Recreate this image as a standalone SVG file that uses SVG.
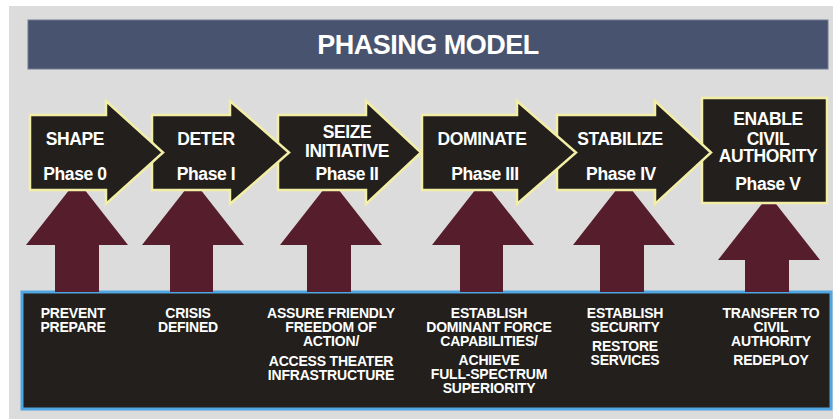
<svg xmlns="http://www.w3.org/2000/svg" width="833" height="419" viewBox="0 0 833 419">
<style>
.bg{fill:#dcdcdc}
.title{fill:#48536f;stroke:#707a94;stroke-width:1}
.tt{font-family:"Liberation Sans",Arial,sans-serif;font-weight:bold;font-size:27px;fill:#ffffff;text-anchor:middle;letter-spacing:-0.5px}
.chev{fill:#231f1c;stroke:#f2eea6;stroke-width:2.5;stroke-linejoin:miter}
.up{fill:#561e2c}
.ph{font-family:"Liberation Sans",Arial,sans-serif;font-weight:bold;font-size:17.5px;fill:#ffffff;text-anchor:middle;letter-spacing:-0.4px}
.panel{fill:#221f1c;stroke:#4fa6e0;stroke-width:3}
.bt{font-family:"Liberation Sans",Arial,sans-serif;font-weight:bold;font-size:14px;fill:#ffffff;text-anchor:middle;letter-spacing:-0.2px}
</style>
<rect class="bg" x="9" y="6" width="824" height="413"/>
<g id="title">
<rect class="title" x="28" y="20" width="800" height="49"/>
<text class="tt" x="428" y="54">PHASING MODEL</text>
</g>
<g id="panel">
<rect class="panel" x="22" y="292" width="809" height="117"/>
</g>
<g id="connectors">
<path class="up" d="M77,180 L128,245 L99,245 L99,292 L55,292 L55,245 L26,245 Z"/>
<path class="up" d="M193,180 L244,245 L213,245 L213,292 L170,292 L170,245 L142,245 Z"/>
<path class="up" d="M331,180 L382,245 L351,245 L351,292 L307,292 L307,245 L280,245 Z"/>
<path class="up" d="M483,180 L534,245 L503,245 L503,292 L460,292 L460,245 L432,245 Z"/>
<path class="up" d="M624,180 L675,245 L644,245 L644,292 L600,292 L600,245 L573,245 Z"/>
<path class="up" d="M769,195 L820,260 L789,260 L789,292 L745,292 L745,260 L718,260 Z"/>
</g>
<g id="phase5">
<rect class="chev" x="702" y="98" width="125" height="105"/>
<text class="ph" x="768" y="125">ENABLE</text>
<text class="ph" x="768" y="145">CIVIL</text>
<text class="ph" x="768" y="162">AUTHORITY</text>
<text class="ph" x="768" y="190">Phase V</text>
</g>
<g id="phase4">
<path class="chev" d="M557,115 H655 V101 L711,152.5 L655,204 V190 H557 Z"/>
<text class="ph" x="620" y="145">STABILIZE</text>
<text class="ph" x="621" y="180">Phase IV</text>
</g>
<g id="phase3">
<path class="chev" d="M422,115 H517 V101 L576,152.5 L517,204 V190 H422 Z"/>
<text class="ph" x="482" y="145">DOMINATE</text>
<text class="ph" x="485" y="180">Phase III</text>
</g>
<g id="phase2">
<path class="chev" d="M278,115 H366 V101 L421,152.5 L366,204 V190 H278 Z"/>
<text class="ph" x="347" y="138">SEIZE</text>
<text class="ph" x="347" y="157">INITIATIVE</text>
<text class="ph" x="347" y="180">Phase II</text>
</g>
<g id="phase1">
<path class="chev" d="M152,115 H230 V101 L289,152.5 L230,204 V190 H152 Z"/>
<text class="ph" x="206" y="145">DETER</text>
<text class="ph" x="206" y="180">Phase I</text>
</g>
<g id="phase0">
<path class="chev" d="M30,115 H106 V101 L163,152.5 L106,204 V190 H30 Z"/>
<text class="ph" x="75" y="145">SHAPE</text>
<text class="ph" x="75" y="180">Phase 0</text>
</g>
<g id="tasks">
<text class="bt" x="73" y="318">PREVENT</text>
<text class="bt" x="73" y="332">PREPARE</text>
<text class="bt" x="188" y="318">CRISIS</text>
<text class="bt" x="188" y="332">DEFINED</text>
<text class="bt" x="331" y="318">ASSURE FRIENDLY</text>
<text class="bt" x="331" y="332">FREEDOM OF</text>
<text class="bt" x="331" y="346">ACTION/</text>
<text class="bt" x="331" y="366">ACCESS THEATER</text>
<text class="bt" x="331" y="380">INFRASTRUCTURE</text>
<text class="bt" x="489" y="318">ESTABLISH</text>
<text class="bt" x="489" y="332">DOMINANT FORCE</text>
<text class="bt" x="489" y="346">CAPABILITIES/</text>
<text class="bt" x="489" y="365">ACHIEVE</text>
<text class="bt" x="489" y="379">FULL-SPECTRUM</text>
<text class="bt" x="489" y="393">SUPERIORITY</text>
<text class="bt" x="625" y="318">ESTABLISH</text>
<text class="bt" x="625" y="332">SECURITY</text>
<text class="bt" x="625" y="351">RESTORE</text>
<text class="bt" x="625" y="365">SERVICES</text>
<text class="bt" x="771" y="318">TRANSFER TO</text>
<text class="bt" x="771" y="332">CIVIL</text>
<text class="bt" x="771" y="346">AUTHORITY</text>
<text class="bt" x="771" y="365">REDEPLOY</text>
</g>
</svg>
